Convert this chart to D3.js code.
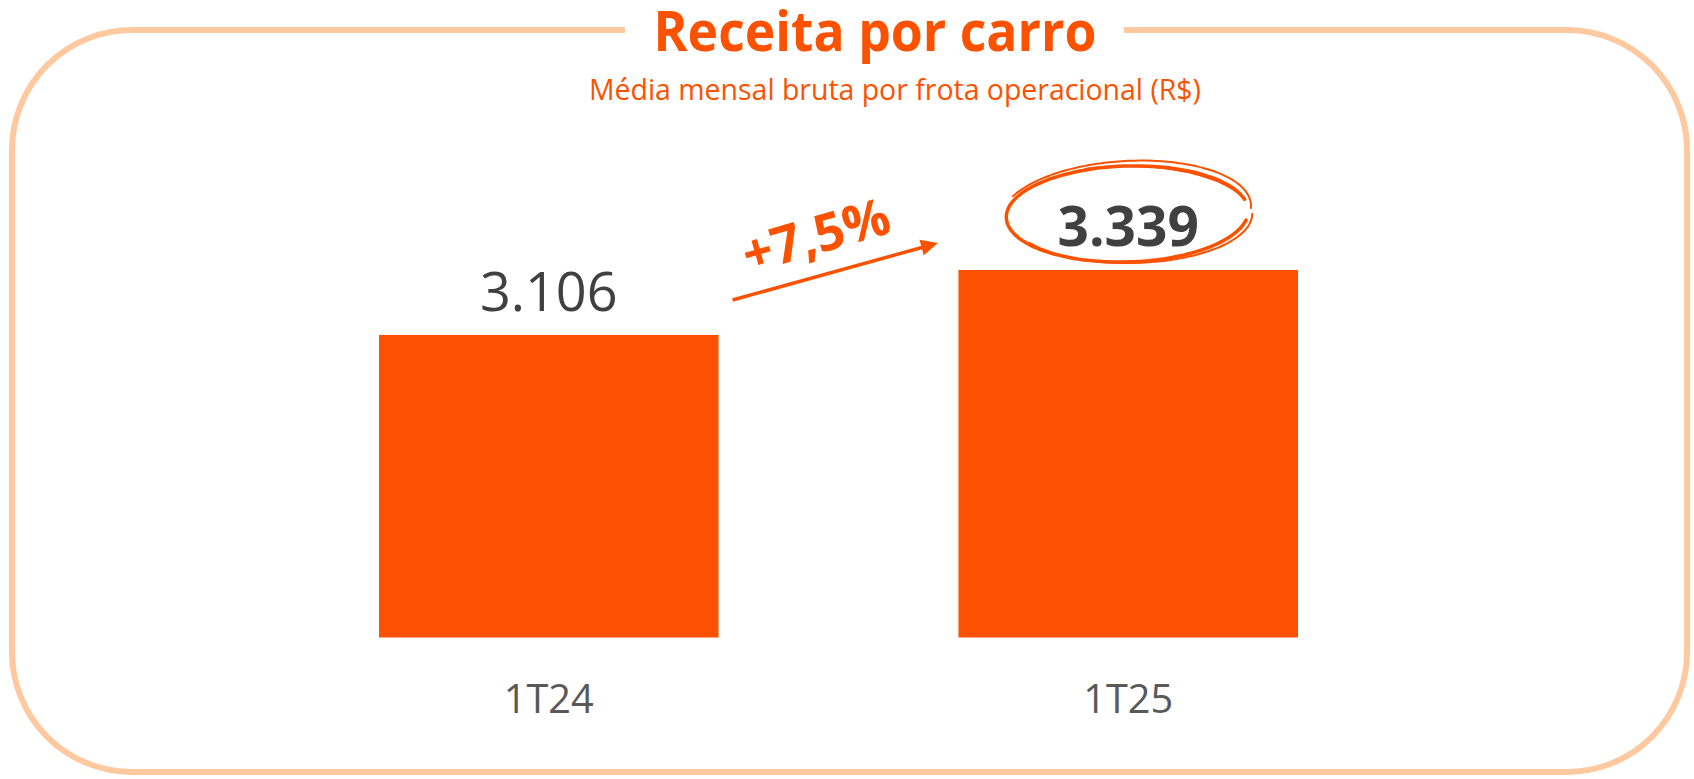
<!DOCTYPE html>
<html lang="pt">
<head>
<meta charset="UTF-8">
<title>Receita por carro</title>
<script src="https://d3js.org/d3.v7.min.js"></script>
<style>
  body { margin: 0; background: #fff; }
  svg { display: block; }
</style>
</head>
<body>
<div id="chart"></div>
<script>
// data
const categories = ["1T24", "1T25"];
const values = [3106, 3339];
const valueLabels = ["3.106", "3.339"];
const growthLabel = "+7,5%";
const title = "Receita por carro";
const subtitle = "Média mensal bruta por frota operacional (R$)";

const W = 1694, H = 779;
const orange = "#FC5200";
const peach = "#FFC9A0";
const font = "'Open Sans', 'DejaVu Sans', sans-serif";

const svg = d3.select("#chart").append("svg").attr("width", W).attr("height", H);

// frame with a gap for the title
const L = 12, R = 1687, T = 30, B = 772, r = 120;
const fp = d3.path();
fp.moveTo(625, T);
fp.lineTo(L + r, T);
fp.arcTo(L, T, L, T + r, r);
fp.lineTo(L, B - r);
fp.arcTo(L, B, L + r, B, r);
fp.lineTo(R - r, B);
fp.arcTo(R, B, R, B - r, r);
fp.lineTo(R, T + r);
fp.arcTo(R, T, R - r, T, r);
fp.lineTo(1124, T);
svg.append("path").attr("d", fp.toString())
  .attr("fill", "none").attr("stroke", peach).attr("stroke-width", 6);

// titles
svg.append("text").attr("x", 875).attr("y", 51)
  .attr("text-anchor", "middle").attr("font-family", font).attr("font-weight", 700)
  .attr("font-size", 56).attr("fill", orange)
  .attr("textLength", 443).attr("lengthAdjust", "spacingAndGlyphs")
  .text(title);
svg.append("text").attr("x", 895).attr("y", 100)
  .attr("text-anchor", "middle").attr("font-family", font)
  .attr("font-size", 30).attr("fill", orange)
  .attr("textLength", 612).attr("lengthAdjust", "spacingAndGlyphs")
  .text(subtitle);

// scales
const x = d3.scaleBand().domain(categories).range([379, 1298])
  .paddingInner(0.414).paddingOuter(0);
const y = d3.scaleLinear().domain([2020, 3339]).range([637.5, 270]);

svg.append("g").selectAll("rect").data(values).join("rect")
  .attr("x", (d, i) => x(categories[i]))
  .attr("y", d => y(d))
  .attr("width", x.bandwidth())
  .attr("height", d => y(2020) - y(d))
  .attr("fill", orange);

// category labels
svg.append("g").selectAll("text").data(categories).join("text")
  .attr("x", d => x(d) + x.bandwidth() / 2)
  .attr("y", 713)
  .attr("text-anchor", "middle").attr("font-family", font)
  .attr("font-size", 41).attr("fill", "#595959")
  .attr("textLength", 90).attr("lengthAdjust", "spacingAndGlyphs")
  .text(d => d);

// value labels
svg.append("g").selectAll("text").data(values).join("text")
  .attr("x", (d, i) => x(categories[i]) + x.bandwidth() / 2)
  .attr("y", d => y(d) - 24)
  .attr("text-anchor", "middle").attr("font-family", font)
  .attr("font-weight", (d, i) => i === 1 ? 700 : 400)
  .attr("font-size", (d, i) => i === 1 ? 55 : 54)
  .attr("fill", "#404040")
  .text((d, i) => valueLabels[i]);

// growth arrow
const x0 = x(categories[0]) + x.bandwidth() + 14, y0 = 300;
const x1 = 938, y1 = 243;
const ang = Math.atan2(y1 - y0, x1 - x0);
svg.append("line").attr("x1", x0).attr("y1", y0)
  .attr("x2", x1 - 12 * Math.cos(ang)).attr("y2", y1 - 12 * Math.sin(ang))
  .attr("stroke", orange).attr("stroke-width", 3.5);
const ah = 17, aw = 8;
const tip = [x1, y1];
const base = [x1 - ah * Math.cos(ang), y1 - ah * Math.sin(ang)];
svg.append("path")
  .attr("d", `M${tip}L${base[0] + aw * Math.sin(ang)},${base[1] - aw * Math.cos(ang)}L${base[0] - aw * Math.sin(ang)},${base[1] + aw * Math.cos(ang)}Z`)
  .attr("fill", orange);
svg.append("text")
  .attr("transform", `translate(821,253) rotate(-16)`)
  .attr("text-anchor", "middle").attr("font-family", font).attr("font-weight", 700)
  .attr("font-size", 52).attr("fill", orange)
  .text(growthLabel);

// hand-drawn circle round the last value
const cx = x(categories[1]) + x.bandwidth() / 2, cy = 212;
function loop(rx, ry, rot, a0, a1, dx, dy) {
  const pts = d3.range(a0, a1, 0.05).map(a => {
    const px = rx * Math.cos(a), py = ry * Math.sin(a);
    const c = Math.cos(rot), s = Math.sin(rot);
    return [cx + dx + px * c - py * s, cy + dy + px * s + py * c];
  });
  return d3.line().curve(d3.curveBasis)(pts);
}
const strokes = [
  [121, 48, -0.03, 0.2, 6.1, -1, 2],
  [125, 51, -0.06, 3.6, 6.4, -2, 0],
  [118, 45, 0.02, 4.3, 6.0, 4, -1],
  [122, 48, -0.01, 0.0, 2.6, 2, 3]
];
svg.append("g").selectAll("path").data(strokes).join("path")
  .attr("d", d => loop(...d))
  .attr("fill", "none").attr("stroke", orange)
  .attr("stroke-width", (d, i) => i === 0 ? 3.5 : 2)
  .attr("stroke-linecap", "round");
</script>
</body>
</html>
